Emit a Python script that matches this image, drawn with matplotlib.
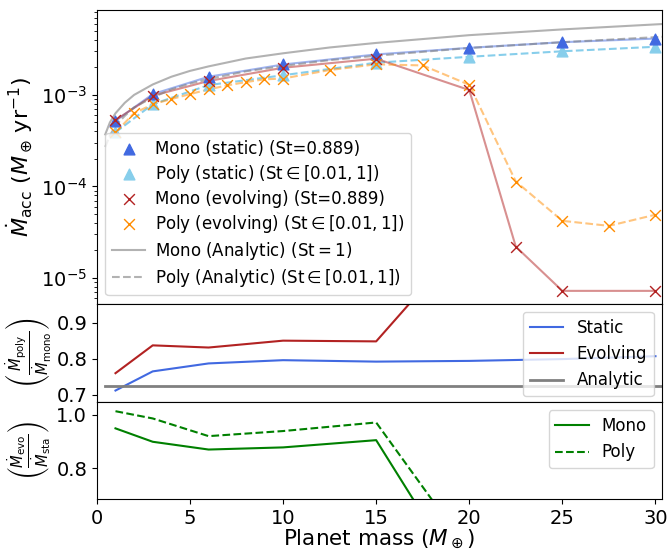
import matplotlib
matplotlib.use("Agg")
import matplotlib.pyplot as plt
import numpy as np

# masses (Earth masses)
m_main = [1, 3, 6, 10, 15, 20, 25, 30]
m_mono_evo = [1, 3, 6, 10, 15, 20, 22.5, 25, 30]
m_poly_evo = [1, 2, 3, 4, 5, 6, 7, 8, 9, 10, 12.5, 15, 17.5, 20, 22.5, 25, 27.5, 30]

# accretion rates (M_earth / yr)
mono_static = [5.2e-4, 1.02e-3, 1.58e-3, 2.15e-3, 2.77e-3, 3.27e-3, 3.77e-3, 4.13e-3]
poly_static = [3.9e-4, 7.9e-4, 1.28e-3, 1.64e-3, 2.25e-3, 2.61e-3, 3.0e-3, 3.36e-3]
mono_evo = [5.3e-4, 9.8e-4, 1.42e-3, 1.98e-3, 2.49e-3, 1.13e-3, 2.19e-5, 7.2e-6, 7.2e-6]
poly_evo = [3.9e-4, 6.3e-4, 7.9e-4, 9.0e-4, 1.02e-3, 1.15e-3, 1.27e-3, 1.38e-3, 1.48e-3,
            1.51e-3, 1.87e-3, 2.16e-3, 2.1e-3, 1.29e-3, 1.13e-4, 4.2e-5, 3.7e-5, 4.9e-5]

# analytic curves
m_analytic = [0.45, 0.7, 1, 1.5, 2, 3, 4, 5, 6, 8, 10, 12.5, 15, 20, 25, 30, 31]
mono_analytic = [3.7e-4, 5.0e-4, 6.3e-4, 8.2e-4, 1.0e-3, 1.3e-3, 1.58e-3, 1.83e-3, 2.05e-3,
                 2.5e-3, 2.85e-3, 3.3e-3, 3.7e-3, 4.5e-3, 5.2e-3, 5.9e-3, 6.05e-3]
poly_analytic = [2.7e-4, 3.6e-4, 4.6e-4, 5.9e-4, 7.3e-4, 9.4e-4, 1.15e-3, 1.33e-3, 1.49e-3,
                 1.81e-3, 2.07e-3, 2.4e-3, 2.68e-3, 3.26e-3, 3.77e-3, 4.28e-3, 4.38e-3]

# ratio poly/mono
ratio_static = [0.712, 0.765, 0.787, 0.796, 0.792, 0.794, 0.799, 0.807]
m_ratio_evo = [1, 3, 6, 10, 15, 20]
ratio_evo = [0.760, 0.837, 0.831, 0.850, 0.848, 1.14]
m_ratio_analytic = [0.45, 31]
ratio_analytic = [0.724, 0.724]

# ratio evolving/static
m_evo_sta = [1, 3, 6, 10, 15, 20]
evo_sta_mono = [0.949, 0.899, 0.870, 0.878, 0.905, 0.35]
evo_sta_poly = [1.013, 0.986, 0.920, 0.939, 0.971, 0.49]

fig = plt.figure(figsize=(6.68, 5.5), dpi=100)
gs = fig.add_gridspec(3, 1, height_ratios=[296, 99, 98], hspace=0.0)
ax0 = fig.add_subplot(gs[0])
ax1 = fig.add_subplot(gs[1], sharex=ax0)
ax2 = fig.add_subplot(gs[2], sharex=ax0)

# top panel
ax0.plot(m_main, mono_static, color="royalblue", lw=1.5, alpha=0.5)
ax0.plot(m_main, poly_static, color="skyblue", lw=1.5, ls="--")
ax0.plot(m_mono_evo, mono_evo, color="firebrick", lw=1.5, alpha=0.5)
ax0.plot(m_poly_evo, poly_evo, color="darkorange", lw=1.5, ls="--", alpha=0.5)
ax0.scatter(m_main, mono_static, marker="^", s=60, color="royalblue",
            label="Mono (static) (St=0.889)", zorder=4)
ax0.scatter(m_main, poly_static, marker="^", s=60, color="skyblue",
            label=r"Poly (static) ($\mathrm{St}\in[0.01, 1]$)", zorder=3)
ax0.scatter(m_mono_evo, mono_evo, marker="x", s=60, color="firebrick", lw=1.0,
            label="Mono (evolving) (St=0.889)", zorder=5)
ax0.scatter(m_poly_evo, poly_evo, marker="x", s=60, color="darkorange", lw=1.0,
            label=r"Poly (evolving) ($\mathrm{St}\in[0.01, 1]$)", zorder=4)
ax0.plot(m_analytic, mono_analytic, color="grey", lw=1.5, alpha=0.6,
         label=r"Mono (Analytic) ($\mathrm{St}=1$)")
ax0.plot(m_analytic, poly_analytic, color="grey", lw=1.5, ls="--", alpha=0.6,
         label=r"Poly (Analytic) ($\mathrm{St}\in[0.01, 1]$)")
ax0.set_yscale("log")
ax0.set_ylim(5.2e-6, 8.5e-3)
ax0.set_ylabel(r"$\dot{M}_{\rm acc}$ ($M_\oplus\,{\rm yr}^{-1}$)", fontsize=16, labelpad=4)
ax0.legend(loc="lower left", fontsize=12, labelspacing=0.3, handletextpad=0.6,
           borderaxespad=0.5, scatterpoints=1)
ax0.tick_params(axis="x", bottom=False, labelbottom=False)
ax0.tick_params(axis="y", labelsize=14)

# middle panel
ax1.plot(m_main, ratio_static, color="royalblue", lw=1.5, label="Static")
ax1.plot(m_ratio_evo, ratio_evo, color="firebrick", lw=1.5, label="Evolving")
ax1.plot(m_ratio_analytic, ratio_analytic, color="grey", lw=2, label="Analytic")
ax1.set_ylim(0.68, 0.952)
ax1.set_yticks([0.7, 0.8, 0.9])
ax1.set_ylabel(r"$\left(\frac{\dot{M}_{\rm poly}}{\dot{M}_{\rm mono}}\right)$", fontsize=15, labelpad=2)
ax1.legend(loc="upper right", fontsize=12)
ax1.tick_params(axis="x", bottom=False, labelbottom=False)
ax1.tick_params(axis="y", labelsize=14)

# bottom panel
ax2.plot(m_evo_sta, evo_sta_mono, color="green", lw=1.5, label="Mono")
ax2.plot(m_evo_sta, evo_sta_poly, color="green", lw=1.5, ls="--", label="Poly")
ax2.set_ylim(0.684, 1.047)
ax2.set_yticks([0.8, 1.0])
ax2.set_ylabel(r"$\left(\frac{\dot{M}_{\rm evo}}{\dot{M}_{\rm sta}}\right)$", fontsize=15, labelpad=2)
ax2.legend(loc="upper right", fontsize=12)
ax2.set_xlim(0, 30.35)
ax2.set_xticks([0, 5, 10, 15, 20, 25, 30])
ax2.tick_params(axis="both", labelsize=14)
ax2.set_xlabel(r"Planet mass ($M_\oplus$)", fontsize=15.5, labelpad=0)

fig.subplots_adjust(left=0.145, right=0.991, top=0.982, bottom=0.092)
fig.savefig("out.png", dpi=100)
